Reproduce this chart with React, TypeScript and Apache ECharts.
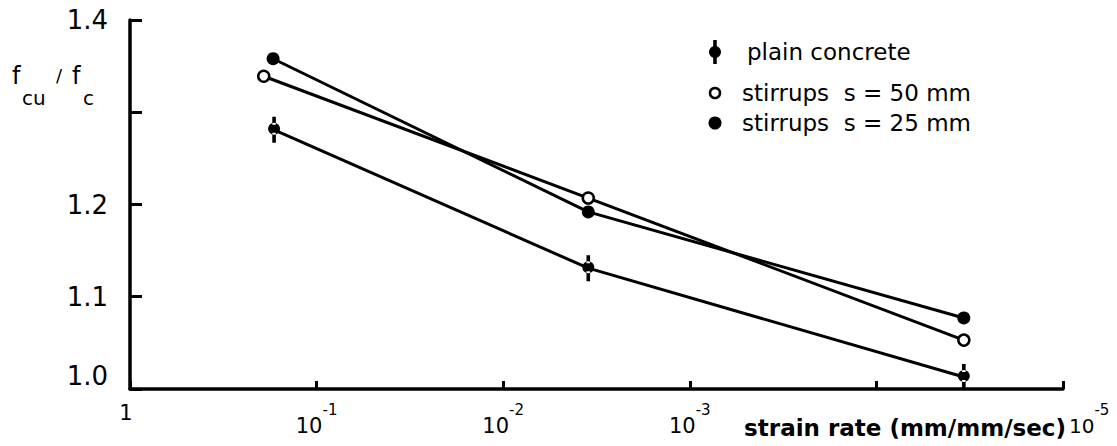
import React, { useEffect, useRef } from "react";
import * as echarts from "echarts";

// strain rate (mm/mm/sec) and f_cu/f_c
const plainRate = [0.169, 3.5e-3, 3.4e-5];
const plainRatio = [1.281, 1.131, 1.013];
const s50Rate = [0.192, 3.5e-3, 3.4e-5];
const s50Ratio = [1.339, 1.207, 1.053];
const s25Rate = [0.171, 3.5e-3, 3.4e-5];
const s25Ratio = [1.358, 1.192, 1.077];

const seriesNames = ["plain concrete", "stirrups  s = 50 mm", "stirrups  s = 25 mm"];
const yHidden = [1.3];
const xHiddenExp = [-4];
const xTitle = "strain rate (mm/mm/sec)";

const PHI =
  "path://M0 12 A6 6 0 1 0 12 12 A6 6 0 1 0 0 12 Z M4.2 0 H7.8 V8 H4.2 Z M4.2 16 H7.8 V26 H4.2 Z";
const FONT = "DejaVu Sans";

const pairs = (xs: number[], ys: number[]) => xs.map((x, i) => [x, ys[i]]);

export default function App() {
  const ref = useRef<HTMLDivElement>(null);
  useEffect(() => {
    document.body.style.margin = "0";
    const chart = echarts.init(ref.current!, null, { renderer: "svg" });
    const lineStyle = { color: "#000", width: 3 };
    const legendRows = [52, 93, 123];
    const legendX = 715;
    const legendTextX = 742;
    chart.setOption({
      animation: false,
      backgroundColor: "#fff",
      grid: { left: 130, right: 54, top: 20, bottom: 57, outerBoundsMode: "none" },
      xAxis: {
        type: "log",
        logBase: 10,
        inverse: true,
        min: 1e-5,
        max: 1,
        axisLine: { lineStyle: { color: "#000", width: 3.5 } },
        axisTick: { inside: true, length: 8, lineStyle: { color: "#000", width: 3 } },
        minorTick: { show: false },
        splitLine: { show: false },
        axisLabel: {
          color: "#000",
          fontFamily: FONT,
          margin: 13,
          alignMinLabel: "left",
          formatter: (v: number) => {
            const e = Math.round(Math.log10(v));
            if (e === 0) return "{one|1}";
            if (xHiddenExp.includes(e)) return "";
            if (e === -5) return `{bl|10}{s|${e}}`;
            return `{b|10}{s|${e}}`;
          },
          rich: {
            one: { fontSize: 21, fontFamily: FONT, lineHeight: 34, verticalAlign: "top", padding: [0, 8, 0, 0] },
            b: { fontSize: 21, fontFamily: FONT, lineHeight: 34, verticalAlign: "bottom" },
            bl: { fontSize: 20, fontFamily: FONT, lineHeight: 34, verticalAlign: "bottom", padding: [0, 0, 0, 6] },
            s: { fontSize: 15, fontFamily: FONT, lineHeight: 34, verticalAlign: "top" },
          },
        },
      },
      yAxis: {
        type: "value",
        min: 1,
        max: 1.4,
        interval: 0.1,
        axisLine: { show: true, lineStyle: { color: "#000", width: 3.5 } },
        axisTick: { show: true, inside: true, length: 12, lineStyle: { color: "#000", width: 3 } },
        splitLine: { show: false },
        axisLabel: {
          color: "#000",
          fontFamily: FONT,
          fontSize: 26,
          margin: 22,
          verticalAlignMinLabel: "bottom",
          formatter: (v: number) => (yHidden.some((h) => Math.abs(h - v) < 1e-6) ? "" : v.toFixed(1)),
        },
      },
      series: [
        {
          name: seriesNames[0],
          type: "line",
          data: pairs(plainRate, plainRatio),
          symbol: PHI,
          symbolSize: [12, 26],
          itemStyle: { color: "#000" },
          lineStyle,
          z: 3,
        },
        {
          name: seriesNames[1],
          type: "line",
          data: pairs(s50Rate, s50Ratio),
          symbol: "circle",
          symbolSize: 11,
          itemStyle: { color: "#fff", borderColor: "#000", borderWidth: 2.5 },
          lineStyle,
          z: 4,
        },
        {
          name: seriesNames[2],
          type: "line",
          data: pairs(s25Rate, s25Ratio),
          symbol: "circle",
          symbolSize: 13,
          itemStyle: { color: "#000" },
          lineStyle,
          z: 3,
        },
      ],
      graphic: [
        // y-axis title f_cu / f_c
        { type: "text", left: 12, top: 64, style: { text: "f", font: `24px '${FONT}'`, fill: "#000" } },
        { type: "text", left: 22, top: 88, style: { text: "cu", font: `20px '${FONT}'`, fill: "#000" } },
        { type: "text", left: 56, top: 66, style: { text: "/", font: `18px '${FONT}'`, fill: "#000" } },
        { type: "text", left: 72, top: 64, style: { text: "f", font: `24px '${FONT}'`, fill: "#000" } },
        { type: "text", left: 83, top: 88, style: { text: "c", font: `20px '${FONT}'`, fill: "#000" } },
        // x-axis title
        {
          type: "text",
          x: 1066,
          y: 428,
          style: { text: xTitle, font: `bold 23px '${FONT}'`, fill: "#000", align: "right", verticalAlign: "middle" },
        },
        // legend
        { type: "rect", shape: { x: legendX - 1.8, y: legendRows[0] - 12, width: 3.6, height: 24 }, style: { fill: "#000" } },
        { type: "circle", shape: { cx: legendX, cy: legendRows[0], r: 6 }, style: { fill: "#000" } },
        { type: "circle", shape: { cx: legendX, cy: legendRows[1], r: 5 }, style: { fill: "#fff", stroke: "#000", lineWidth: 2.5 } },
        { type: "circle", shape: { cx: legendX, cy: legendRows[2], r: 6.5 }, style: { fill: "#000" } },
        ...seriesNames.map((n, i) => ({
          type: "text",
          x: i === 0 ? legendTextX + 5 : legendTextX,
          y: legendRows[i],
          style: { text: n, font: `23px '${FONT}'`, fill: "#000", verticalAlign: "middle" },
        })),
      ],
    });
    return () => chart.dispose();
  }, []);
  return <div ref={ref} style={{ width: 1117, height: 446 }} />;
}
